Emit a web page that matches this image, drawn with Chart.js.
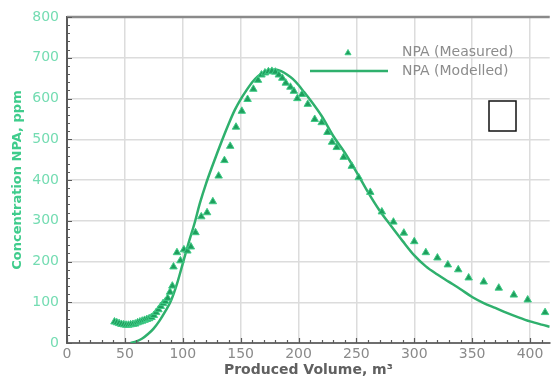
<!DOCTYPE html>
<html>
<head>
<meta charset="utf-8">
<script src="https://cdn.jsdelivr.net/npm/chart.js@4/dist/chart.umd.min.js"></script>
<style>
  html, body { margin: 0; padding: 0; background: #ffffff; }
  #c { display: block; }
</style>
</head>
<body>
<canvas id="c" width="555" height="380"></canvas>
<script>
// NPA breakthrough: measured concentrations vs. model prediction
const measuredVolume = [
  41, 43, 45, 47, 49, 51, 53, 55, 57, 59, 61, 63, 65, 67, 69, 71, 73, 75, 77, 79,
  81, 83, 85, 87, 89, 91, 92, 95, 98, 101, 104, 107, 111, 116, 121, 126, 131, 136,
  141, 146, 151, 156, 161, 165, 168, 171, 174, 177, 180, 183, 186, 189, 193, 196,
  199, 203, 208, 214, 220, 225, 229, 233, 239, 246, 252, 262, 272, 282, 291, 300,
  310, 320, 329, 338, 347, 360, 373, 386, 398, 413
];
const measuredNPA = [
  52, 50, 48, 46, 45, 44, 44, 45, 46, 47, 50, 52, 54, 56, 58, 60, 63, 68, 75, 82,
  90, 97, 102, 110, 125, 140, 187, 222, 202, 229, 226, 236, 271, 310, 320, 347, 410, 448,
  483, 530, 569, 598, 623, 645, 658, 663, 666, 667, 665, 658, 650, 638, 628, 618,
  600, 610, 586, 549, 541, 517, 493, 480, 456, 434, 406, 370, 322, 297, 270, 249,
  222, 209, 192, 180, 160, 150, 135, 118, 106, 75
];
const modelVolume = [
  55, 60, 65, 70, 75, 80, 85, 90, 95, 100, 105, 110, 115, 120, 125, 130, 135, 140,
  145, 150, 155, 160, 165, 170, 175, 180, 185, 190, 195, 200, 205, 210, 220, 230,
  240, 250, 260, 270, 280, 290, 300, 310, 320, 330, 340, 350, 360, 370, 380, 390,
  400, 410, 417
];
const modelNPA = [
  0, 4, 11, 22, 36, 55, 78, 105, 145, 195, 245, 292, 345, 390, 430, 468, 505, 540,
  572, 598, 620, 640, 655, 664, 670, 671, 667, 659, 648, 633, 615, 597, 557, 508,
  467, 420, 370, 325, 287, 250, 215, 188, 168, 150, 132, 113, 98, 86, 74, 63,
  53, 45, 40
];
const seriesLabels = ['NPA (Measured)', 'NPA (Modelled)'];
const xTitle = 'Produced Volume, m³';
const yTitle = 'Concentration NPA, ppm';

const pointsOf = (xs, ys) => xs.map((x, i) => ({ x, y: ys[i] }));

const GREEN_MARK = '#1f9e5d';
const GREEN_EDGE = '#3fcb86';
const GREEN_LINE = '#2fb06d';

// Frame: dark top border and inward major/minor ticks on both axes
const framePlugin = {
  id: 'frame',
  afterDatasetsDraw(chart) {
    const { ctx, chartArea: a, scales: { x, y } } = chart;
    ctx.save();
    ctx.strokeStyle = '#8a8a8a';
    ctx.lineWidth = 2.5;
    ctx.beginPath();
    ctx.moveTo(a.left, a.top);
    ctx.lineTo(a.right, a.top);
    ctx.stroke();

    ctx.strokeStyle = '#5a5a5a';
    ctx.lineWidth = 1.2;
    ctx.beginPath();
    for (let v = 0; v <= 800; v += 20) {
      const py = Math.round(y.getPixelForValue(v)) + 0.5;
      const len = v % 100 === 0 ? 5 : 3;
      ctx.moveTo(a.left, py);
      ctx.lineTo(a.left + len, py);
    }
    for (let v = 0; v <= x.max; v += 10) {
      const px = Math.round(x.getPixelForValue(v)) + 0.5;
      const len = v % 50 === 0 ? 5 : 3;
      ctx.moveTo(px, a.bottom);
      ctx.lineTo(px, a.bottom - len);
    }
    ctx.stroke();
    ctx.restore();
  }
};

// Axis titles
const titlesPlugin = {
  id: 'titles',
  afterDraw(chart) {
    const { ctx, chartArea: a } = chart;
    ctx.save();
    ctx.textAlign = 'center';
    ctx.textBaseline = 'middle';
    ctx.fillStyle = '#606060';
    ctx.font = 'bold 14px "DejaVu Sans"';
    ctx.fillText(xTitle, (a.left + a.right) / 2, 370);
    ctx.translate(18, (a.top + a.bottom) / 2);
    ctx.rotate(-Math.PI / 2);
    ctx.fillStyle = '#3fcc8c';
    ctx.font = 'bold 13px "DejaVu Sans"';
    ctx.fillText(yTitle, 0, 0);
    ctx.restore();
  }
};

// Legend inside the plot, plus the small empty box below it
const legendPlugin = {
  id: 'insideLegend',
  afterDraw(chart) {
    const { ctx } = chart;
    const ds = chart.data.datasets;
    ctx.save();
    // triangle marker
    const tx = 348, ty = 53, r = 3.5;
    ctx.beginPath();
    ctx.moveTo(tx, ty - r);
    ctx.lineTo(tx + 0.866 * r, ty + 0.5 * r);
    ctx.lineTo(tx - 0.866 * r, ty + 0.5 * r);
    ctx.closePath();
    ctx.fillStyle = GREEN_MARK;
    ctx.fill();
    ctx.strokeStyle = GREEN_EDGE;
    ctx.lineWidth = 1;
    ctx.stroke();
    // line sample
    ctx.strokeStyle = GREEN_LINE;
    ctx.lineWidth = 2.5;
    ctx.beginPath();
    ctx.moveTo(310, 71);
    ctx.lineTo(388, 71);
    ctx.stroke();
    // labels
    ctx.fillStyle = '#8c8c8c';
    ctx.font = '14px "DejaVu Sans"';
    ctx.textAlign = 'left';
    ctx.textBaseline = 'middle';
    ctx.fillText(ds[0].label, 402, 52);
    ctx.fillText(ds[1].label, 402, 71);
    // empty box
    ctx.strokeStyle = '#111111';
    ctx.lineWidth = 1.5;
    ctx.fillStyle = '#ffffff';
    ctx.fillRect(489, 101, 27, 30);
    ctx.strokeRect(489, 101, 27, 30);
    ctx.restore();
  }
};

new Chart(document.getElementById('c'), {
  type: 'scatter',
  data: {
    datasets: [
      {
        label: seriesLabels[0],
        data: pointsOf(measuredVolume, measuredNPA),
        pointStyle: 'triangle',
        pointRadius: 4.3,
        backgroundColor: GREEN_MARK,
        borderColor: GREEN_EDGE,
        borderWidth: 1,
        showLine: false,
        order: 1
      },
      {
        label: seriesLabels[1],
        data: pointsOf(modelVolume, modelNPA),
        showLine: true,
        borderColor: GREEN_LINE,
        borderWidth: 2.5,
        pointRadius: 0,
        tension: 0.4,
        cubicInterpolationMode: 'monotone',
        fill: false,
        order: 2
      }
    ]
  },
  options: {
    responsive: false,
    animation: false,
    layout: { padding: { top: 17, left: 0, right: 0, bottom: 0 } },
    plugins: { legend: { display: false }, tooltip: { enabled: false } },
    scales: {
      x: {
        type: 'linear',
        min: 0,
        max: 417,
        afterFit(s) { s.height = 37; },
        ticks: {
          stepSize: 50,
          includeBounds: false,
          color: '#8a8a8a',
          font: { family: 'DejaVu Sans', size: 14 },
          padding: 3,
          maxRotation: 0
        },
        grid: { color: '#dcdcdc', lineWidth: 1.5, drawTicks: false },
        border: { color: '#6e6e6e', width: 2 }
      },
      y: {
        type: 'linear',
        min: 0,
        max: 800,
        afterFit(s) { s.width = 67; },
        ticks: {
          stepSize: 100,
          color: '#74dcb2',
          font: { family: 'DejaVu Sans', size: 14 },
          padding: 8
        },
        grid: { color: '#dcdcdc', lineWidth: 1.5, drawTicks: false },
        border: { color: '#5a5a5a', width: 2 }
      }
    }
  },
  plugins: [framePlugin, titlesPlugin, legendPlugin]
});
</script>
</body>
</html>
